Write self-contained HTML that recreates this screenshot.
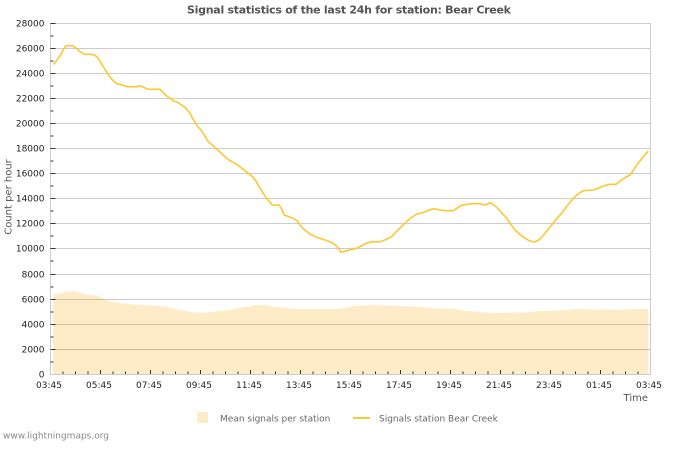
<!DOCTYPE html>
<html><head><meta charset="utf-8"><style>
html,body{margin:0;padding:0;background:#fff;}
svg{display:block;font-family:"DejaVu Sans","Liberation Sans",sans-serif;}
</style></head><body>
<svg width="700" height="450" viewBox="0 0 700 450" xmlns="http://www.w3.org/2000/svg">
<rect width="700" height="450" fill="#fff"/>
<text x="349" y="13.5" text-anchor="middle" font-size="11" font-weight="bold" fill="#555" textLength="324" lengthAdjust="spacing">Signal statistics of the last 24h for station: Bear Creek</text>
<!-- area -->
<polygon fill="#feebc8" points="53,374 53,295 56,294 60,293.3 66.7,291.7 73.3,291.3 76,291.5 80,292.7 86.7,294.7 98.3,295.7 103.3,299 111.7,302 120,303 130,304 141.7,305 156.7,306 166.7,306.7 173.3,308.7 180,310 190,311.7 200,313 210,312.3 220,311 233.3,309.3 246.7,306.7 256.7,305 266.7,305.3 273.3,306.7 286.7,308 293.3,309 340,309 353.3,306 373.3,305 391.7,305.7 423.3,307 430,308 455,309 466.7,311 480,312 491.7,313 528.3,312.3 540,311 566.7,310 573.3,309 616.7,310 635,309 648.3,309 648.3,374"/>
<!-- gridlines -->
<g stroke="#000" stroke-opacity="0.2" stroke-width="1">
<line x1="50.5" x2="650" y1="23.5" y2="23.5"/>
<line x1="50.5" x2="650" y1="48.5" y2="48.5"/>
<line x1="50.5" x2="650" y1="73.5" y2="73.5"/>
<line x1="50.5" x2="650" y1="98.5" y2="98.5"/>
<line x1="50.5" x2="650" y1="123.5" y2="123.5"/>
<line x1="50.5" x2="650" y1="148.5" y2="148.5"/>
<line x1="50.5" x2="650" y1="173.5" y2="173.5"/>
<line x1="50.5" x2="650" y1="198.5" y2="198.5"/>
<line x1="50.5" x2="650" y1="223.5" y2="223.5"/>
<line x1="50.5" x2="650" y1="248.5" y2="248.5"/>
<line x1="50.5" x2="650" y1="274.5" y2="274.5"/>
<line x1="50.5" x2="650" y1="299.5" y2="299.5"/>
<line x1="50.5" x2="650" y1="324.5" y2="324.5"/>
<line x1="50.5" x2="650" y1="349.5" y2="349.5"/>
<line x1="50.5" x2="650" y1="374.5" y2="374.5"/>
<line x1="50.5" x2="50.5" y1="23" y2="375"/>
<line x1="650.5" x2="650.5" y1="23" y2="375"/>
</g>
<!-- line -->
<polyline fill="none" stroke="#fbc832" stroke-width="1.6" stroke-linejoin="round" points="53.5,64.5 57,60 60.7,55 63,50 66,45.7 72.7,45.7 76,48 80,51.7 85,54.3 91.7,54.3 95,55.5 97.3,57.3 100,61 103.3,66.7 106,71 109.3,76 112,79.5 116,83.3 121.7,85 127.3,86.7 136.7,86.7 140,85.7 144,87.5 148.3,89.3 160,89.3 163,92.5 166.7,96 173.3,100.7 178,102.5 184,106.7 187,109.5 190,113.3 193,119 196.7,125 200,129 203.3,133.3 206,138 208.3,141.7 213.3,146 220,152 226.7,158.3 231.7,161.7 236.7,164.3 242,168.5 248.3,173.3 253.3,177.3 256.5,182 260,188.3 263,193 266.7,198.3 270,202.5 272.3,205 279.3,205 282,210 284.3,215 291.7,217.7 297.3,220.7 300,225 302.7,228.3 306,231 310,234 316.7,237.3 325,240 333.3,243.3 337.7,247.3 341,252.3 346.7,250.7 352,249.5 356.7,248.3 361,246 366,243.3 372.7,241.7 380,241.7 386,239.5 391.7,236.7 397,231 403.3,225 407,221 411.7,217.3 416.7,214 422.7,212.7 429.3,210 433.3,208.7 440,210 446.7,210.7 453.3,210.7 460.7,205.7 466,204.5 471.7,203.7 480,203.7 485,205 490.7,202.7 496.7,207.3 501,212 506.7,218.3 511,224.5 515,230 520,234.5 525,238.3 529,240.5 534,242 538,240.5 541.7,237.3 546,232 551.7,225 556,219.5 561.7,213.3 567,206 573.3,198.3 578,194 583.3,190.7 593.3,190 598,188.5 603.3,186 610,184.3 616,184.3 621.7,180 625,177.5 630,175 633,171 636.7,165 640,161 643.3,156.7 648.3,151"/>
<!-- y ticks -->
<g stroke="#333" stroke-width="1">
<path d="M50.5 23.5h5M50.5 48.5h5M50.5 73.5h5M50.5 98.5h5M50.5 123.5h5M50.5 148.5h5M50.5 173.5h5M50.5 198.5h5M50.5 223.5h5M50.5 248.5h5M50.5 274.5h5M50.5 299.5h5M50.5 324.5h5M50.5 349.5h5"/>
<path d="M50.5 36h3M50.5 61h3M50.5 86h3M50.5 111h3M50.5 136h3M50.5 161h3M50.5 186h3M50.5 211h3M50.5 236h3M50.5 261h3M50.5 287h3M50.5 312h3M50.5 337h3M50.5 362h3"/>
<path d="M100.5 374v-4M150.5 374v-4M200.5 374v-4M250.5 374v-4M300.5 374v-4M350.5 374v-4M400.5 374v-4M450.5 374v-4M500.5 374v-4M550.5 374v-4M600.5 374v-4"/>
<path d="M63 374v-2.5M75.5 374v-2.5M88 374v-2.5M113 374v-2.5M125.5 374v-2.5M138 374v-2.5M163 374v-2.5M175.5 374v-2.5M188 374v-2.5M213 374v-2.5M225.5 374v-2.5M238 374v-2.5M263 374v-2.5M275.5 374v-2.5M288 374v-2.5M313 374v-2.5M325.5 374v-2.5M338 374v-2.5M363 374v-2.5M375.5 374v-2.5M388 374v-2.5M413 374v-2.5M425.5 374v-2.5M438 374v-2.5M463 374v-2.5M475.5 374v-2.5M488 374v-2.5M513 374v-2.5M525.5 374v-2.5M538 374v-2.5M563 374v-2.5M575.5 374v-2.5M588 374v-2.5M613 374v-2.5M625.5 374v-2.5M638 374v-2.5"/>
</g>
<!-- y labels -->
<g font-size="9" fill="#222" text-anchor="end">
<text x="44.5" y="26.5">28000</text>
<text x="44.5" y="51.5">26000</text>
<text x="44.5" y="76.5">24000</text>
<text x="44.5" y="101.5">22000</text>
<text x="44.5" y="126.5">20000</text>
<text x="44.5" y="151.5">18000</text>
<text x="44.5" y="176.5">16000</text>
<text x="44.5" y="201.5">14000</text>
<text x="44.5" y="226.5">12000</text>
<text x="44.5" y="251.5">10000</text>
<text x="44.5" y="277.5">8000</text>
<text x="44.5" y="302.5">6000</text>
<text x="44.5" y="327.5">4000</text>
<text x="44.5" y="352.5">2000</text>
<text x="44.5" y="377.5">0</text>
</g>
<!-- x labels -->
<g font-size="9" fill="#222" text-anchor="middle">
<text x="49" y="388">03:45</text>
<text x="99" y="388">05:45</text>
<text x="149" y="388">07:45</text>
<text x="199" y="388">09:45</text>
<text x="249" y="388">11:45</text>
<text x="299" y="388">13:45</text>
<text x="349" y="388">15:45</text>
<text x="399" y="388">17:45</text>
<text x="449" y="388">19:45</text>
<text x="499" y="388">21:45</text>
<text x="549" y="388">23:45</text>
<text x="599" y="388">01:45</text>
<text x="649" y="388">03:45</text>
</g>
<text x="648" y="401" font-size="10" fill="#555" text-anchor="end">Time</text>
<text transform="translate(11.5,197) rotate(-90)" font-size="10" fill="#555" text-anchor="middle">Count per hour</text>
<!-- legend -->
<rect x="197" y="412" width="11" height="11" fill="#feebc8"/>
<text x="220" y="421.5" font-size="9" fill="#666">Mean signals per station</text>
<line x1="353" x2="370" y1="418" y2="418" stroke="#fbc832" stroke-width="2"/>
<text x="379" y="421.5" font-size="9" fill="#666">Signals station Bear Creek</text>
<text x="3" y="438.5" font-size="9" fill="#888">www.lightningmaps.org</text>
</svg>
</body></html>
